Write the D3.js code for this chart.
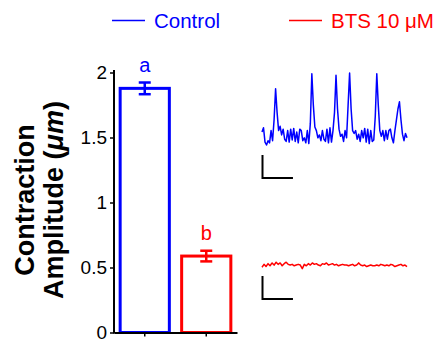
<!DOCTYPE html>
<html><head><meta charset="utf-8">
<script src="https://cdn.jsdelivr.net/npm/d3@7"></script>
<style>body{margin:0;background:#fff}svg{display:block}text{font-family:"Liberation Sans",Arial,sans-serif}</style>
</head><body><svg id="c" width="442" height="341"></svg>
<script>
const groups = ["Control", "BTS 10 μM"];
const colors = ["#0000ff", "#ff0000"];
const means = [1.878, 0.588];
const errors = [0.045, 0.041];
const letters = ["a", "b"];
const yTicks = [0, 0.5, 1, 1.5, 2];
const yTickLabels = ["0", "0.5", "1", "1.5", "2"];
const controlTrace = [0.18,0.24,0.04,0.0,0.06,0.03,0.2,0.06,0.35,0.78,0.45,0.2,0.26,0.14,0.22,0.08,0.05,0.2,0.04,0.22,
0.07,0.23,0.05,0.18,0.03,0.22,0.2,0.06,0.1,0.03,0.2,0.02,0.3,0.99,0.55,0.25,0.2,0.1,0.14,0.06,
0.2,0.08,0.05,0.22,0.03,0.24,0.04,0.2,0.45,0.97,0.5,0.22,0.12,0.15,0.05,0.2,0.1,0.55,1.0,0.5,
0.2,0.16,0.2,0.08,0.15,0.05,0.2,0.1,0.23,0.04,0.22,0.02,0.2,0.05,0.07,0.4,0.99,0.55,0.2,0.12,
0.2,0.06,0.2,0.08,0.2,0.22,0.1,0.03,0.2,0.35,0.5,0.6,0.35,0.15,0.06,0.16,0.1];
const btsTrace = [0.08,0.12,0.09,0.13,0.10,0.14,0.11,0.15,0.12,0.14,0.10,0.13,0.15,0.12,0.11,0.12,0.10,0.11,0.12,0.11,
0.06,0.12,0.10,0.13,0.11,0.14,0.12,0.13,0.11,0.10,0.13,0.12,0.14,0.11,0.12,0.13,0.11,0.12,0.10,0.11,
0.12,0.11,0.11,0.10,0.11,0.12,0.10,0.11,0.14,0.11,0.10,0.11,0.09,0.10,0.11,0.10,0.10,0.11,0.10,0.12,
0.11,0.10,0.11,0.10,0.12,0.11,0.09,0.10,0.11,0.12,0.10,0.11,0.09];
const scaleBarAmp = 0.32;   // trace units
const scaleBarTime = 0.21;  // fraction of trace duration

const svg = d3.select("#c");
const font = '"Liberation Sans",Arial,sans-serif';

// Bar chart
const y = d3.scaleLinear().domain([0, 2]).range([332.5, 72.5]);
const x = d3.scaleBand().domain(groups).range([114, 237]).paddingInner(0.2).paddingOuter(0.1);

const g = svg.append("g");
groups.forEach((grp, i) => {
  const bx = x(grp), bw = x.bandwidth(), cx = bx + bw / 2;
  g.append("rect").attr("x", bx).attr("y", y(means[i])).attr("width", bw)
    .attr("height", y(0) - y(means[i])).attr("fill", "none")
    .attr("stroke", colors[i]).attr("stroke-width", 3);
  const top = y(means[i] + errors[i]), bot = y(means[i] - errors[i]);
  g.append("line").attr("x1", cx).attr("x2", cx).attr("y1", top).attr("y2", bot)
    .attr("stroke", colors[i]).attr("stroke-width", 2.5);
  [top, bot].forEach(v => g.append("line").attr("x1", cx - 6).attr("x2", cx + 6)
    .attr("y1", v).attr("y2", v).attr("stroke", colors[i]).attr("stroke-width", 2.5));
  g.append("text").attr("x", cx).attr("y", top - 11).attr("text-anchor", "middle")
    .attr("font-size", 20).attr("fill", colors[i]).text(letters[i]);
});

// Axes
const yAxis = d3.axisLeft(y).tickValues(yTicks).tickFormat((d, i) => yTickLabels[i]).tickSize(4).tickSizeOuter(0).tickPadding(3);
const ya = svg.append("g").attr("transform", "translate(114,0)").call(yAxis);
ya.select(".domain").attr("stroke-width", 2).attr("d", `M0,${y(0)+1}V70`);
ya.selectAll(".tick line").attr("stroke-width", 1.5);
ya.selectAll("text").attr("font-size", 19).attr("font-family", font).attr("fill", "#000");

const xAxis = d3.axisBottom(x).tickSize(4).tickSizeOuter(0).tickFormat("");
const xa = svg.append("g").attr("transform", `translate(0,${y(0)})`).call(xAxis);
xa.select(".domain").attr("stroke-width", 2);
xa.selectAll(".tick line").attr("stroke-width", 1.5);

// Y title
const t = svg.append("text").attr("transform", "translate(0,200) rotate(-90)")
  .attr("text-anchor", "middle").attr("font-size", 27).attr("font-weight", "bold");
t.append("tspan").attr("x", 0).attr("y", 34).text("Contraction");
t.append("tspan").attr("x", 0).attr("y", 63).text("Amplitude (");
t.append("tspan").attr("font-style", "italic").text("μm");
t.append("tspan").text(")");

// Legend
const legX = [112, 289], legTextX = [154, 331];
groups.forEach((grp, i) => {
  svg.append("line").attr("x1", legX[i]).attr("x2", legX[i] + 33).attr("y1", 20.5).attr("y2", 20.5)
    .attr("stroke", colors[i]).attr("stroke-width", 1.5);
  svg.append("text").attr("x", legTextX[i]).attr("y", 28).attr("font-size", 20.5)
    .attr("fill", colors[i]).text(grp);
});

// Traces
const traces = [controlTrace, btsTrace];
const baselines = [145, 273];
traces.forEach((tr, i) => {
  const tx = d3.scaleLinear().domain([0, tr.length - 1]).range([262, 407]);
  const ty = d3.scaleLinear().domain([0, 1]).range([baselines[i], baselines[i] - 72]);
  svg.append("path").datum(tr).attr("fill", "none").attr("stroke", colors[i])
    .attr("stroke-width", 1.5).attr("stroke-linejoin", "round")
    .attr("d", d3.line().x((d, j) => tx(j)).y(d => ty(d)));
  const sb0 = baselines[i] + (i === 0 ? 33 : 26);
  const sx = 262.5;
  const len = tx(scaleBarTime * (tr.length - 1)) - tx(0);
  const h = ty(0) - ty(scaleBarAmp);
  svg.append("path").attr("fill", "none").attr("stroke", "#000").attr("stroke-width", 2)
    .attr("d", `M${sx},${sb0 - h}V${sb0}H${sx + len}`);
});
</script></body></html>
